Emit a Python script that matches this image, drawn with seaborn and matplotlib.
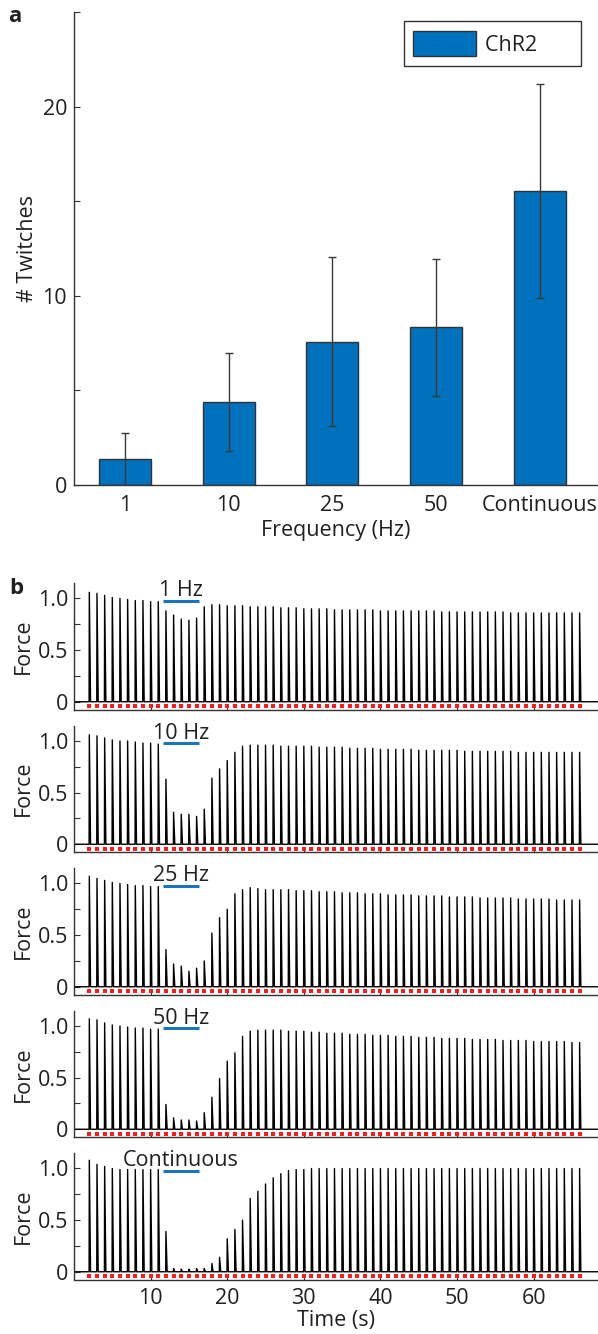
import numpy as np
import pandas as pd
import matplotlib
matplotlib.use("Agg")
import matplotlib.pyplot as plt
from matplotlib.patches import Patch
import seaborn as sns

# ---------------- data: panel a ----------------
categories = ["1", "10", "25", "50", "Continuous"]
twitch_mean = [1.36, 4.40, 7.58, 8.34, 15.53]
twitch_err = [1.37, 2.60, 4.46, 3.63, 5.67]
legend_label = "ChR2"

# ---------------- data: panel b ----------------
spike_times = np.arange(2, 67)          # one twitch per second (s)
force_1hz = [1.06, 1.05, 1.03, 1.01, 1.00, 0.99, 0.98, 0.98, 0.97, 0.97,
             0.88, 0.84, 0.80, 0.79, 0.81,
             0.92, 0.94, 0.94, 0.93, 0.93, 0.93, 0.92, 0.92, 0.92, 0.92, 0.91, 0.91, 0.91,
             0.90, 0.90, 0.90, 0.90, 0.89, 0.89, 0.89, 0.89, 0.89, 0.89,
             0.88, 0.88, 0.88, 0.88, 0.88, 0.88, 0.88, 0.88, 0.87, 0.87,
             0.87, 0.87, 0.87, 0.87, 0.87, 0.87, 0.87, 0.86, 0.86, 0.86,
             0.86, 0.86, 0.86, 0.86, 0.86, 0.86, 0.86]
force_10hz = [1.06, 1.05, 1.03, 1.01, 1.00, 1.00, 0.99, 0.98, 0.98, 0.97,
              0.63, 0.31, 0.29, 0.29, 0.27,
              0.34, 0.64, 0.73, 0.81, 0.89, 0.95, 0.96, 0.96, 0.96, 0.96, 0.95, 0.95, 0.95,
              0.95, 0.95, 0.94, 0.94, 0.94, 0.94, 0.93, 0.93, 0.93, 0.93,
              0.92, 0.92, 0.92, 0.92, 0.92, 0.91, 0.91, 0.91, 0.91, 0.91,
              0.91, 0.90, 0.90, 0.90, 0.90, 0.90, 0.90, 0.90, 0.89, 0.89,
              0.89, 0.89, 0.89, 0.89, 0.89, 0.89, 0.89]
force_25hz = [1.07, 1.05, 1.03, 1.01, 1.00, 0.99, 0.98, 0.98, 0.97, 0.97,
              0.36, 0.22, 0.20, 0.15, 0.18,
              0.25, 0.52, 0.67, 0.75, 0.90, 0.94, 0.96, 0.95, 0.94, 0.94, 0.94, 0.94, 0.93,
              0.93, 0.93, 0.92, 0.92, 0.92, 0.91, 0.91, 0.91, 0.90, 0.90,
              0.90, 0.89, 0.89, 0.89, 0.89, 0.88, 0.88, 0.88, 0.88, 0.87,
              0.87, 0.87, 0.87, 0.86, 0.86, 0.86, 0.86, 0.86, 0.85, 0.85,
              0.85, 0.85, 0.85, 0.84, 0.84, 0.84, 0.84]
force_50hz = [1.07, 1.06, 1.03, 1.01, 1.00, 0.99, 0.98, 0.98, 0.97, 0.97,
              0.24, 0.11, 0.09, 0.09, 0.08,
              0.16, 0.31, 0.49, 0.66, 0.74, 0.90, 0.95, 0.96, 0.96, 0.96, 0.96, 0.95, 0.95,
              0.95, 0.94, 0.94, 0.93, 0.93, 0.93, 0.92, 0.92, 0.92, 0.91,
              0.91, 0.91, 0.90, 0.90, 0.90, 0.89, 0.89, 0.89, 0.88, 0.88,
              0.88, 0.88, 0.87, 0.87, 0.87, 0.87, 0.86, 0.86, 0.86, 0.86,
              0.85, 0.85, 0.85, 0.85, 0.85, 0.84, 0.84]
force_cont = [1.08, 1.04, 1.02, 1.00, 0.99, 0.99, 0.99, 0.99, 0.99, 0.99,
              0.39, 0.03, 0.025, 0.025, 0.03,
              0.03, 0.08, 0.14, 0.32, 0.41, 0.50, 0.71, 0.78, 0.85, 0.91, 0.95, 0.98, 0.99,
              0.99, 1.00, 1.00, 1.00, 1.00, 1.00, 1.00, 1.00, 1.00, 1.00,
              1.00, 1.00, 1.00, 1.00, 1.00, 1.00, 1.00, 1.00, 1.00, 1.00,
              1.00, 1.00, 1.00, 1.00, 1.00, 1.00, 1.00, 1.00, 1.00, 1.00,
              1.00, 1.00, 1.00, 1.00, 1.00, 1.00, 1.00]
force_traces = [force_1hz, force_10hz, force_25hz, force_50hz, force_cont]
stim_labels = ["1 Hz", "10 Hz", "25 Hz", "50 Hz", "Continuous"]
stim_window = [11.6, 16.3]
time_ticks = [10, 20, 30, 40, 50, 60]
force_ticks = [0, 0.25, 0.5, 0.75, 1.0]
force_ticklabels = ["0", "", "0.5", "", "1.0"]
twitch_ticks = [0, 5, 10, 15, 20, 25]
twitch_ticklabels = ["0", "", "10", "", "20", ""]

# ---------------- style ----------------
sns.set_style("ticks")
plt.rcParams['font.family'] = ['Open Sans', 'DejaVu Sans']
plt.rcParams['font.size'] = 15.5
INK = "#231f20"
AXC = "#333333"
BAR_BLUE = "#0071bc"
STIM_BLUE = "#1b75bc"
plt.rcParams.update({
    'axes.edgecolor': AXC, 'axes.linewidth': 1.0,
    'xtick.color': AXC, 'ytick.color': AXC,
    'xtick.labelcolor': INK, 'ytick.labelcolor': INK,
    'axes.labelcolor': INK, 'text.color': INK,
})

W, H = 598, 1334
fig = plt.figure(figsize=(W / 100, H / 100), dpi=100)


def rect(l, t, r, b):
    return [l / W, 1 - b / H, (r - l) / W, (b - t) / H]


# ---------------- panel a ----------------
axa = fig.add_axes(rect(74, 12, 597, 485))
df_a = pd.DataFrame({"Frequency": categories, "Twitches": twitch_mean})
sns.barplot(data=df_a, x="Frequency", y="Twitches", color=BAR_BLUE, saturation=1,
            width=0.5, edgecolor=AXC, linewidth=1.0, errorbar=None, ax=axa)
axa.errorbar(np.arange(len(categories)), twitch_mean, yerr=twitch_err, fmt='none',
             ecolor="#3a3a3a", elinewidth=1.0, capsize=3, capthick=1.0, zorder=5)
axa.set_xlim(-0.49, 4.55)
axa.set_ylim(0, 25)
axa.set_yticks(twitch_ticks)
axa.set_yticklabels(twitch_ticklabels)
axa.tick_params(axis='y', direction='in', length=4, pad=5)
axa.tick_params(axis='x', length=0, pad=7)
axa.set_xlabel("Frequency (Hz)", labelpad=3)
axa.set_ylabel("# Twitches", labelpad=3)
sns.despine(ax=axa)
leg = axa.legend(handles=[Patch(facecolor=BAR_BLUE, edgecolor=AXC, linewidth=1.0,
                                label=legend_label + "      ")],
                 loc='upper right', bbox_to_anchor=(581 / W, 1 - 21 / H),
                 bbox_transform=fig.transFigure, borderaxespad=0,
                 handlelength=2.9, handleheight=1.45, handletextpad=0.45,
                 borderpad=0.45, fancybox=False, framealpha=1, edgecolor=AXC)
leg.get_frame().set_linewidth(1.0)

fig.text(8 / W, 1 - 6 / H, "a", fontweight='bold', fontsize=16, va='top', ha='left')

# ---------------- panel b ----------------
tops = [583, 725.5, 868, 1010.5, 1153]
ax_h = 126.5
rise, decay = 0.03, 0.16
t_end = 68.4
for i, (amps, lab) in enumerate(zip(force_traces, stim_labels)):
    ax = fig.add_axes(rect(74, tops[i], 598, tops[i] + ax_h))
    # build the force trace: flat baseline with one brief twitch per stimulus
    xs, ys = [0.0], [0.0]
    for t, a in zip(spike_times, amps):
        xs += [t - rise, t, t + decay]
        ys += [0.0, a, 0.0]
    xs.append(t_end)
    ys.append(0.0)
    trace = pd.DataFrame({"Time (s)": xs, "Force": ys})
    sns.lineplot(data=trace, x="Time (s)", y="Force", sort=False, estimator=None,
                 color="black", linewidth=1.0, ax=ax)
    # stimulus markers (red dots)
    dots = pd.DataFrame({"t": spike_times, "y": np.full(len(spike_times), -0.045)})
    sns.scatterplot(data=dots, x="t", y="y", marker='s', s=5, color="#ff1a1a",
                    linewidth=0, ax=ax)
    # light stimulus bar and label
    ax.plot(stim_window, [0.98, 0.98], color=STIM_BLUE, linewidth=2.2,
            solid_capstyle='butt')
    ax.text(np.mean(stim_window), 1.022, lab, ha='center', va='baseline',
            clip_on=False)
    ax.set_xlim(0, t_end)
    ax.set_ylim(-0.075, 1.15)
    ax.set_yticks(force_ticks)
    ax.set_yticklabels(force_ticklabels)
    ax.set_xticks(time_ticks)
    ax.tick_params(axis='y', direction='in', length=4, pad=4)
    ax.tick_params(axis='x', direction='in', length=3, pad=6)
    ax.set_ylabel("Force", labelpad=3)
    if i < len(force_traces) - 1:
        ax.set_xticklabels([])
        ax.set_xlabel("")
    else:
        ax.set_xlabel("Time (s)", labelpad=1)
    sns.despine(ax=ax)

fig.text(9 / W, 1 - 578 / H, "b", fontweight='bold', fontsize=16, va='top', ha='left')

fig.savefig("out.png", dpi=100)
